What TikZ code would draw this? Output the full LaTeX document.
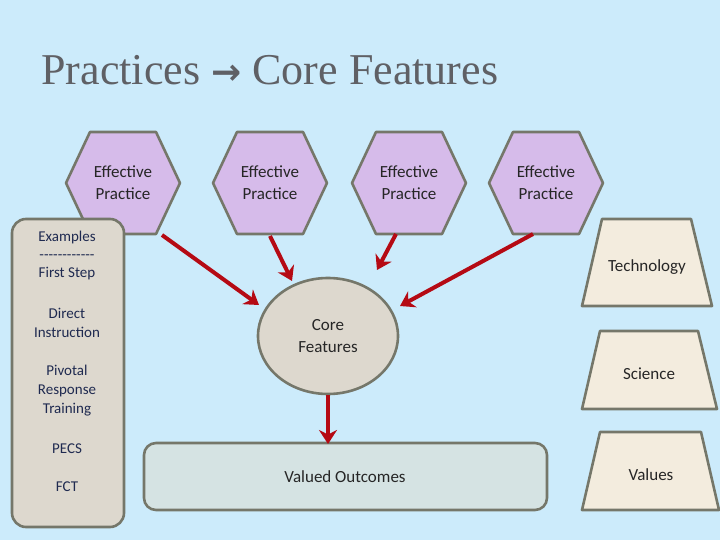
\documentclass[tikz,border=0pt]{standalone}
\usepackage{fontspec}
\setmainfont{Carlito}
\newfontfamily\titlefont{Liberation Serif}
\newfontfamily\arrfont{DejaVu Sans}
\usetikzlibrary{arrows.meta}
\definecolor{bg}{HTML}{CCEBFB}
\definecolor{edge}{HTML}{75776A}
\definecolor{hexf}{HTML}{D6BBEA}
\definecolor{tanf}{HTML}{DDD8CE}
\definecolor{trapf}{HTML}{F3ECDE}
\definecolor{outf}{HTML}{D5E3E3}
\definecolor{arr}{HTML}{B50A14}
\definecolor{navy}{HTML}{1F2A50}
\definecolor{tgray}{HTML}{5F6065}
\begin{document}
\begin{tikzpicture}[x=1pt,y=-1pt,
  shp/.style={draw=edge,line width=2.6pt,line join=round},
  lbl/.style={font=\fontsize{17}{22}\selectfont,text=black!85,align=center},
  nv/.style={font=\fontsize{15}{19}\selectfont,text=navy,align=center},
  ar/.style={draw=arr,line width=4pt,-{Stealth[length=14pt,width=18pt]}}]
\fill[bg] (0,0) rectangle (720,540);
\useasboundingbox (0,0) rectangle (720,540);
\node[anchor=west,font=\fontsize{44}{50}\selectfont\titlefont,text=tgray] (title) at (38,70) {Practices {\arrfont\bfseries\fontsize{36}{40}\selectfont →} Core Features};
% hexagons
\foreach \cx/\n in {123/h1,270/h2,409/h3,546/h4}{
  \filldraw[shp,fill=hexf] (\cx-57,183) -- (\cx-33,132) -- (\cx+33,132) -- (\cx+57,183) -- (\cx+33,234) -- (\cx-33,234) -- cycle;
  \node[lbl] (\n) at (\cx,183) {Effective\\Practice};
}
% left panel
\filldraw[shp,fill=tanf,rounded corners=14pt] (12,219) rectangle (124,527);
\node[nv] (ex) at (67,256) {Examples\\[-1pt]{-}{-}{-}{-}{-}{-}{-}{-}{-}{-}{-}{-}\\[-1pt]First Step};
\node[nv] (di) at (67,323) {Direct\\Instruction};
\node[nv] (prt) at (67,391) {Pivotal\\Response\\Training};
\node[nv] (pecs) at (67,449) {PECS};
\node[nv] (fct) at (67,487) {FCT};
% core
\filldraw[shp,fill=tanf] (328,336) ellipse [x radius=70, y radius=58];
\node[lbl] (core) at (328,336) {Core\\Features};
% outcomes
\filldraw[shp,fill=outf,rounded corners=12pt] (144,443) rectangle (547,510);
\node[lbl] (out) at (345,477) {Valued Outcomes};
% trapezoids
\filldraw[shp,fill=trapf] (602,219) -- (691,219) -- (712,306) -- (582,306) -- cycle;
\node[lbl] (tech) at (647,267) {Technology};
\filldraw[shp,fill=trapf] (600,331) -- (698,331) -- (717,409) -- (582,409) -- cycle;
\node[lbl] (sci) at (649,374) {Science};
\filldraw[shp,fill=trapf] (600,432) -- (701,432) -- (719,510) -- (582,510) -- cycle;
\node[lbl] (val) at (651,475) {Values};
% arrows
\coordinate (a1) at (162,235); \coordinate (b1) at (259,305);
\coordinate (a2) at (270,236); \coordinate (b2) at (292,281);
\coordinate (a3) at (396,234); \coordinate (b3) at (377,270);
\coordinate (a4) at (533,234); \coordinate (b4) at (400,306);
\coordinate (a5) at (328,395); \coordinate (b5) at (328,444);
\foreach \i in {1,...,5}{\draw[ar] (a\i) -- (b\i);}
\end{tikzpicture}
\end{document}
